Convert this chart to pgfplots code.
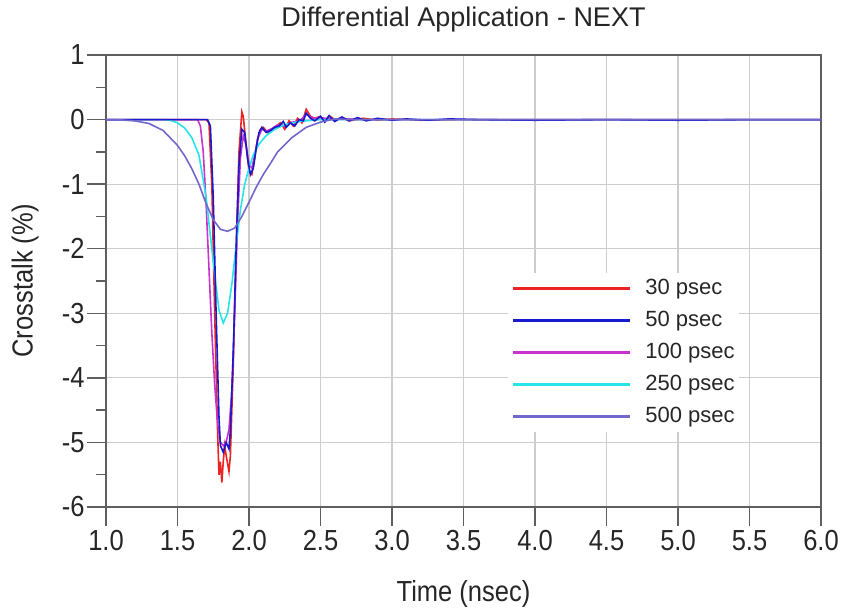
\documentclass[border=0pt]{standalone}
\usepackage{fontspec}
\setmainfont{Liberation Sans}
\newfontfamily\condfont{Liberation Sans}[FakeStretch=0.88]
\usepackage{pgfplots}
\pgfplotsset{compat=1.18}
\definecolor{c30}{RGB}{235,35,35}
\definecolor{c50}{RGB}{25,25,205}
\definecolor{c100}{RGB}{200,50,205}
\definecolor{c250}{RGB}{40,228,232}
\definecolor{c500}{RGB}{112,104,205}
\definecolor{gridc}{RGB}{205,205,205}
\definecolor{axc}{RGB}{95,95,95}
\begin{document}
\begin{tikzpicture}
\useasboundingbox (-106pt,-104pt) rectangle (735pt,507pt);
\begin{axis}[
  scale only axis, width=715pt, height=452pt,
  xmin=1, xmax=6, ymin=-6, ymax=1,
  xtick={1,1.5,...,6}, ytick={-6,-5,...,1},
  minor y tick num=1,
  xtick pos=bottom, ytick pos=left,
  tick align=outside,
  major tick length=19pt, minor tick length=10pt,
  every tick/.style={axc, line width=1.3pt},
  axis line style={axc, line width=1.6pt},
  grid=major,
  major grid style={gridc, line width=1.2pt},
  /pgf/number format/assume math mode=true,
  xticklabel style={/pgf/number format/fixed, /pgf/number format/fixed zerofill, /pgf/number format/precision=1, yshift=-1pt},
  yticklabel style={/pgf/number format/fixed, /pgf/number format/precision=0, xshift=1pt},
  ticklabel style={font=\condfont\fontsize{29}{30}\selectfont, text=black!85},
  xlabel={Time (nsec)},
  ylabel={Crosstalk (\%)},
  label style={font=\condfont\fontsize{29}{30}\selectfont, text=black!85},
  xlabel style={at={(axis description cs:0.5,0)}, anchor=center, yshift=-87pt},
  ylabel style={at={(axis description cs:0,0.5)}, anchor=center, rotate=0, yshift=81pt},
  title={Differential Application - NEXT},
  title style={font=\fontsize{27}{28}\selectfont, text=black!85, at={(axis description cs:0.5,1)}, anchor=center, yshift=29pt},
  legend style={at={(axis description cs:0.562,0.518)}, anchor=north west, draw=none, fill=white,
    font=\fontsize{22}{22}\selectfont, text=black!85, column sep=14pt, row sep=11pt,
    inner xsep=4pt, inner ysep=5pt,
    nodes={inner sep=0pt, text height=16pt, text depth=5pt, anchor=west}},
  legend cell align=left,
  legend image code/.code={\draw[#1, line width=2.4pt] (0pt,0pt) -- (117pt,0pt);},
  clip=true,
]
\addlegendimage{c30}\addlegendentry{30 psec}
\addlegendimage{c50}\addlegendentry{50 psec}
\addlegendimage{c100}\addlegendentry{100 psec}
\addlegendimage{c250}\addlegendentry{250 psec}
\addlegendimage{c500}\addlegendentry{500 psec}
% 30 psec
\addplot[c30, line width=1.6pt, forget plot] coordinates {
(1.0,0) (1.70,0) (1.72,-0.05) (1.74,-1.0) (1.76,-3.0) (1.78,-4.8) (1.79,-5.5) (1.80,-5.3) (1.81,-5.62) (1.82,-5.3) (1.83,-5.05) (1.84,-5.2) (1.86,-5.45) (1.87,-5.2) (1.89,-3.8) (1.91,-2.0) (1.93,-0.5) (1.95,0.12) (1.96,0.05) (1.98,-0.4) (2.00,-0.8) (2.02,-0.85) (2.04,-0.6) (2.06,-0.3) (2.08,-0.15) (2.10,-0.12) (2.13,-0.2) (2.16,-0.15) (2.19,-0.1) (2.22,-0.05) (2.25,-0.15) (2.28,-0.02) (2.31,-0.1) (2.34,0.02) (2.37,-0.05) (2.40,0.16) (2.43,0.05) (2.46,0.02) (2.50,0.05) (2.53,-0.03) (2.56,0.06) (2.60,0.0) (2.65,0.03) (2.70,-0.02) (2.8,0.02) (2.9,-0.01) (3.0,0.01) (3.2,-0.01) (3.5,0) (6.0,0)
};
% 100 psec
\addplot[c100, line width=1.6pt, forget plot] coordinates {
(1.0,0) (1.64,0) (1.66,-0.1) (1.68,-0.5) (1.70,-1.3) (1.72,-2.3) (1.74,-3.3) (1.76,-4.1) (1.78,-4.7) (1.80,-5.0) (1.82,-5.05) (1.84,-5.0) (1.86,-4.8) (1.88,-4.2) (1.90,-3.0) (1.92,-1.6) (1.94,-0.6) (1.96,-0.25) (1.98,-0.4) (2.00,-0.7) (2.02,-0.75) (2.04,-0.55) (2.06,-0.3) (2.09,-0.15) (2.12,-0.18) (2.16,-0.14) (2.20,-0.08) (2.25,-0.1) (2.30,-0.04) (2.35,-0.03) (2.40,0.08) (2.45,0.02) (2.50,0.03) (2.60,0.0) (2.70,0.01) (2.8,0) (6.0,0)
};
% 250 psec
\addplot[c250, line width=1.6pt, forget plot] coordinates {
(1.0,0) (1.40,0) (1.45,-0.01) (1.50,-0.05) (1.55,-0.13) (1.60,-0.28) (1.65,-0.55) (1.70,-1.2) (1.73,-1.8) (1.76,-2.4) (1.79,-2.95) (1.82,-3.15) (1.85,-3.0) (1.88,-2.55) (1.91,-1.95) (1.94,-1.4) (1.97,-1.0) (2.00,-0.75) (2.03,-0.55) (2.07,-0.38) (2.12,-0.25) (2.18,-0.15) (2.25,-0.08) (2.35,-0.03) (2.50,0) (6.0,0)
};
% 50 psec
\addplot[c50, line width=1.6pt, forget plot] coordinates {
(1.0,0) (1.71,0) (1.73,-0.1) (1.75,-1.2) (1.77,-3.0) (1.79,-4.6) (1.80,-5.05) (1.82,-5.15) (1.84,-5.0) (1.86,-5.1) (1.87,-4.8) (1.89,-3.6) (1.91,-2.0) (1.93,-0.7) (1.95,-0.15) (1.97,-0.2) (1.99,-0.6) (2.01,-0.85) (2.03,-0.75) (2.05,-0.45) (2.07,-0.2) (2.09,-0.12) (2.12,-0.2) (2.15,-0.17) (2.18,-0.12) (2.21,-0.1) (2.24,-0.03) (2.26,-0.12) (2.29,-0.05) (2.32,-0.1) (2.35,0.0) (2.38,-0.02) (2.40,0.1) (2.43,0.02) (2.46,-0.02) (2.50,0.05) (2.53,-0.04) (2.56,0.06) (2.60,-0.03) (2.65,0.04) (2.70,-0.02) (2.76,0.03) (2.82,-0.02) (2.90,0.02) (3.0,-0.01) (3.1,0.01) (3.25,-0.01) (3.4,0.01) (3.6,0) (4.0,-0.01) (4.5,0) (5.0,-0.01) (5.5,0) (6.0,0)
};
% 500 psec
\addplot[c500, line width=1.6pt, forget plot] coordinates {
(1.0,0) (1.1,-0.005) (1.2,-0.02) (1.3,-0.06) (1.4,-0.17) (1.5,-0.4) (1.55,-0.56) (1.6,-0.76) (1.65,-1.0) (1.7,-1.3) (1.75,-1.55) (1.8,-1.7) (1.85,-1.73) (1.9,-1.68) (1.95,-1.5) (2.0,-1.28) (2.05,-1.05) (2.1,-0.85) (2.15,-0.68) (2.2,-0.5) (2.3,-0.28) (2.4,-0.12) (2.5,-0.04) (2.6,0.01) (2.7,0) (3.0,0) (6.0,0)
};
\end{axis}
\end{tikzpicture}
\end{document}
